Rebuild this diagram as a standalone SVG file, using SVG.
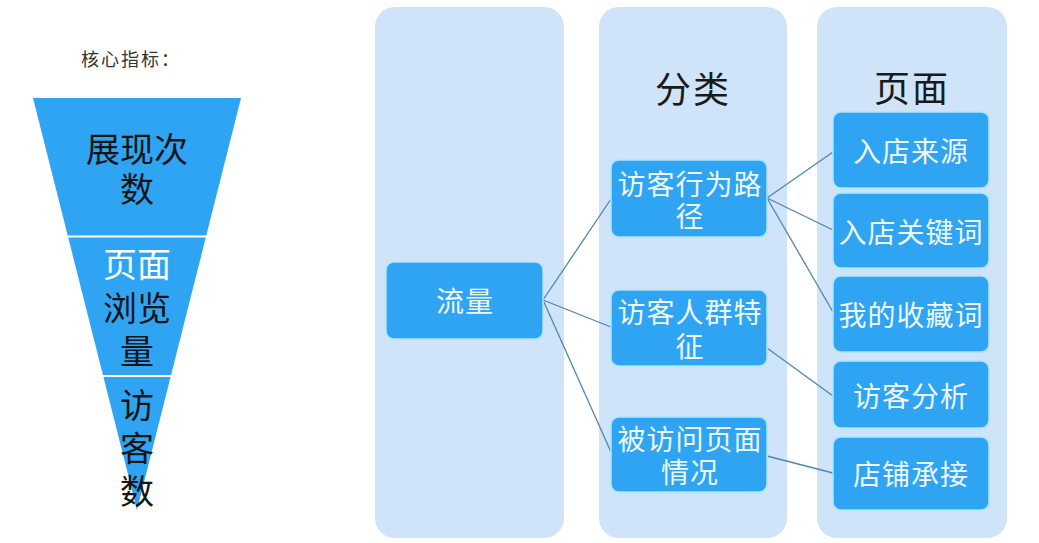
<svg xmlns="http://www.w3.org/2000/svg" width="1039" height="543" viewBox="0 0 1039 543">
<style>
  .col { fill: #cfe3f9; }
  .box { fill: #2fa4f3; stroke: #a9e6ff; stroke-width: 1.5; }
  .bt { font-family: "Noto Sans CJK SC", "Noto Sans", sans-serif; font-size: 28px; fill: #eef8ff; text-anchor: middle; dominant-baseline: central; letter-spacing: 1px; }
  .title { font-family: "Noto Sans CJK SC", sans-serif; font-size: 36px; fill: #1a1a1a; text-anchor: middle; dominant-baseline: central; letter-spacing: 2px; }
  .ft { font-family: "Noto Sans CJK SC", sans-serif; font-size: 34px; fill: #151515; text-anchor: middle; dominant-baseline: central; }
  .conn { stroke: #4f86b0; stroke-width: 1.3; fill: none; }
</style>
<rect width="1039" height="543" fill="#ffffff"/>

<g id="funnel">
  <text x="131" y="58" font-family="Noto Sans CJK SC, sans-serif" font-size="18" fill="#333" text-anchor="middle" dominant-baseline="central" letter-spacing="2">核心指标：</text>
  <polygon points="33,98 241,98 137,510" fill="#2fa4f3"/>
  <line x1="67" y1="236.5" x2="207" y2="236.5" stroke="#ffffff" stroke-width="2"/>
  <line x1="102" y1="376" x2="172" y2="376" stroke="#ffffff" stroke-width="2"/>
  <text class="ft"><tspan x="137" y="147">展现次</tspan><tspan x="137" y="187">数</tspan></text>
  <text class="ft"><tspan x="137" y="262" style="fill:#ffffff">页面</tspan><tspan x="137" y="306">浏览</tspan><tspan x="137" y="349">量</tspan></text>
  <text class="ft"><tspan x="137" y="403">访</tspan><tspan x="137" y="446">客</tspan><tspan x="137" y="489">数</tspan></text>
</g>

<g id="columns">
  <rect class="col" x="375" y="7" width="189" height="531" rx="20"/>
  <rect class="col" x="599" y="7" width="188" height="531" rx="20"/>
  <rect class="col" x="817" y="7" width="190" height="531" rx="20"/>
  <text class="title" x="693" y="87">分类</text>
  <text class="title" x="912" y="86">页面</text>
</g>

<g id="connectors">
  <line class="conn" x1="543" y1="300" x2="611" y2="199"/>
  <line class="conn" x1="543" y1="300" x2="611" y2="327"/>
  <line class="conn" x1="543" y1="300" x2="611" y2="452"/>
  <line class="conn" x1="767" y1="198" x2="833" y2="152"/>
  <line class="conn" x1="767" y1="198" x2="833" y2="230"/>
  <line class="conn" x1="767" y1="198" x2="833" y2="312"/>
  <line class="conn" x1="767" y1="348" x2="833" y2="396"/>
  <line class="conn" x1="767" y1="456" x2="833" y2="473"/>
</g>

<g id="node-liuliang">
  <rect class="box" x="386" y="262" width="157" height="77" rx="8"/>
  <text class="bt" x="465" y="300">流量</text>
</g>
<g id="node-path">
  <rect class="box" x="611" y="160" width="156" height="77" rx="8"/>
  <text class="bt"><tspan x="690" y="183">访客行为路</tspan><tspan x="690" y="215">径</tspan></text>
</g>
<g id="node-crowd">
  <rect class="box" x="611" y="290" width="156" height="76" rx="8"/>
  <text class="bt"><tspan x="690" y="311">访客人群特</tspan><tspan x="690" y="345">征</tspan></text>
</g>
<g id="node-visited">
  <rect class="box" x="611" y="417" width="156" height="75" rx="8"/>
  <text class="bt"><tspan x="690" y="438">被访问页面</tspan><tspan x="690" y="471">情况</tspan></text>
</g>
<g id="node-source">
  <rect class="box" x="833" y="112" width="156" height="76" rx="8"/>
  <text class="bt" x="911" y="150">入店来源</text>
</g>
<g id="node-keyword">
  <rect class="box" x="833" y="193" width="156" height="75" rx="8"/>
  <text class="bt" x="911" y="231">入店关键词</text>
</g>
<g id="node-fav">
  <rect class="box" x="833" y="276" width="156" height="76" rx="8"/>
  <text class="bt" x="911" y="314">我的收藏词</text>
</g>
<g id="node-visitor">
  <rect class="box" x="833" y="361" width="156" height="67" rx="8"/>
  <text class="bt" x="911" y="395">访客分析</text>
</g>
<g id="node-shop">
  <rect class="box" x="833" y="437" width="156" height="73" rx="8"/>
  <text class="bt" x="911" y="473">店铺承接</text>
</g>
</svg>
